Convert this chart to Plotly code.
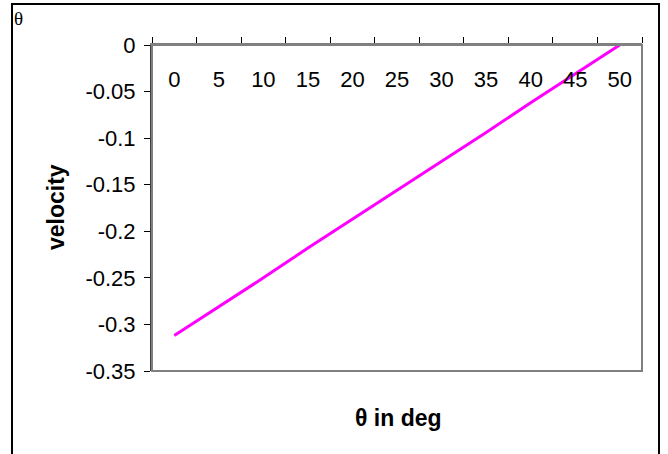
import plotly.graph_objects as go

theta_deg = [0, 5, 10, 15, 20, 25, 30, 35, 40, 45, 50]
velocity = [-0.312, -0.281, -0.250, -0.218, -0.187, -0.156, -0.125, -0.094, -0.062, -0.031, 0.0]
y_ticks = [0, -0.05, -0.1, -0.15, -0.2, -0.25, -0.3, -0.35]
y_ticktext = ["0", "-0.05", "-0.1", "-0.15", "-0.2", "-0.25", "-0.3", "-0.35"]

W, H = 668, 454
L, R, T, B = 152, 26, 45, 83
pw, ph = W - L - R, H - T - B

def px(x):
    return (x - L) / pw

def py(y):
    return (H - B - y) / ph

FONT = "Liberation Sans, Arial, sans-serif"

fig = go.Figure()
# invisible carrier for the label-only axis
fig.add_trace(go.Scatter(x=theta_deg, y=velocity, xaxis="x2", yaxis="y", mode="lines",
                         line=dict(color="rgba(0,0,0,0)", width=0), showlegend=False,
                         hoverinfo="skip"))
fig.add_trace(go.Scatter(x=theta_deg, y=velocity, mode="lines",
                         line=dict(color="#FF00FF", width=3), showlegend=False,
                         hoverinfo="skip", cliponaxis=False))

fig.update_layout(
    width=W, height=H,
    margin=dict(l=L, r=R, t=T, b=B),
    paper_bgcolor="white", plot_bgcolor="white",
    font=dict(family=FONT, size=22, color="black"),
    xaxis=dict(
        range=[-2.5, 52.5], side="top", showgrid=False, zeroline=False,
        tickvals=theta_deg, showticklabels=False, ticks="",
        showline=True, linecolor="#808080", linewidth=2,
        minor=dict(tickvals=[-2.5 + 5 * k for k in range(12)], ticks="outside",
                   ticklen=6, tickcolor="black", tickwidth=1),
        fixedrange=True,
    ),
    xaxis2=dict(
        range=[-2.5, 52.5], overlaying="x", anchor="free", position=py(64), side="bottom",
        showgrid=False, zeroline=False, showline=False, ticks="",
        tickvals=theta_deg, ticktext=[str(v) for v in theta_deg],
        tickfont=dict(size=22, family=FONT, color="black"),
        fixedrange=True,
    ),
    yaxis=dict(
        range=[-0.35, 0], showgrid=False, zeroline=False,
        tickvals=y_ticks, ticktext=y_ticktext,
        ticks="outside", ticklen=6, tickcolor="black", tickwidth=1,
        ticklabelstandoff=4,
        showline=True, linecolor="#404040", linewidth=2,
        tickfont=dict(size=22, family=FONT, color="black"),
        fixedrange=True,
    ),
    shapes=[
        dict(type="rect", xref="paper", yref="paper", x0=0, x1=1, y0=0, y1=1,
             line=dict(color="#808080", width=2), layer="above"),
        dict(type="line", xref="paper", yref="paper", x0=px(12), x1=px(12), y0=py(4), y1=py(460),
             line=dict(color="black", width=2)),
        dict(type="line", xref="paper", yref="paper", x0=px(659), x1=px(659), y0=py(4), y1=py(460),
             line=dict(color="black", width=2)),
        dict(type="line", xref="paper", yref="paper", x0=px(11), x1=px(660), y0=py(4), y1=py(4),
             line=dict(color="black", width=2)),
    ],
    annotations=[
        dict(text="θ", xref="paper", yref="paper", x=px(12), y=py(6), xanchor="left", yanchor="top",
             showarrow=False, font=dict(family="Liberation Serif, Times New Roman, serif", size=19)),
        dict(text="<b>θ in deg</b>", xref="paper", yref="paper", x=px(398), y=py(418),
             xanchor="center", yanchor="middle", showarrow=False,
             font=dict(family=FONT, size=23)),
        dict(text="<b>velocity</b>", xref="paper", yref="paper", x=px(56), y=py(207),
             xanchor="center", yanchor="middle", showarrow=False, textangle=-90,
             font=dict(family=FONT, size=23)),
    ],
)

fig.write_html("out.html")
